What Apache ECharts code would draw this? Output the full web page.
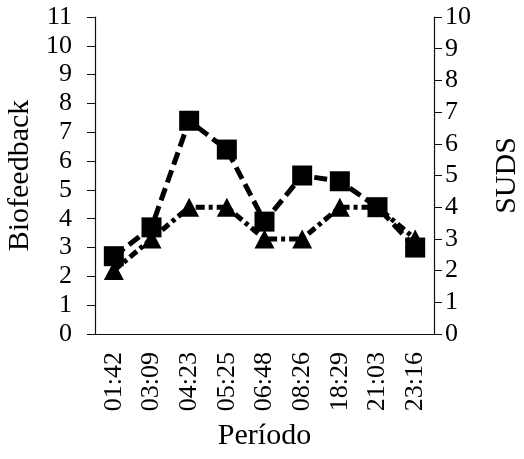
<!DOCTYPE html>
<html>
<head>
<meta charset="utf-8">
<script src="https://cdn.jsdelivr.net/npm/echarts@6/dist/echarts.min.js"></script>
<style>
  html, body { margin: 0; padding: 0; background: #fff; }
  #chart { width: 524px; height: 459px; }
</style>
</head>
<body>
<div id="chart"></div>
<script>
// Time points of each session
const periods = ['01:42', '03:09', '04:23', '05:25', '06:48', '08:26', '18:29', '21:03', '23:16'];
// Biofeedback readings (left axis)
const biofeedback = [2.7, 3.7, 7.4, 6.4, 3.9, 5.5, 5.3, 4.4, 3.0];
// SUDS ratings (right axis)
const suds = [2, 3, 4, 4, 3, 3, 4, 4, 3];

const FONT = 'Liberation Serif';
const TICK_SIZE = 26;
const NAME_SIZE = 30;

const chart = echarts.init(document.getElementById('chart'), null, { renderer: 'canvas' });

const axisLine = { show: true, lineStyle: { color: '#111', width: 1.2 } };

chart.setOption({
  animation: false,
  backgroundColor: '#fff',
  grid: { left: 95, right: 90, top: 17, bottom: 125, containLabel: false, outerBoundsMode: 'none' },
  xAxis: {
    type: 'category',
    data: periods,
    boundaryGap: true,
    axisLine: axisLine,
    axisTick: { show: false },
    axisLabel: { rotate: 90, margin: 18, color: '#000', fontFamily: FONT, fontSize: TICK_SIZE, interval: 0 },
    name: 'Período',
    nameLocation: 'middle',
    nameGap: 87,
    nameTextStyle: { color: '#000', fontFamily: FONT, fontSize: NAME_SIZE }
  },
  yAxis: [
    {
      type: 'value',
      min: 0, max: 11, interval: 1,
      position: 'left',
      axisLine: axisLine,
      axisTick: { show: true, inside: false, length: 8, lineStyle: { color: '#111' } },
      splitLine: { show: false },
      axisLabel: { margin: 23, color: '#000', fontFamily: FONT, fontSize: TICK_SIZE },
      name: 'Biofeedback',
      nameLocation: 'middle',
      nameRotate: 90,
      nameGap: 54,
      nameTextStyle: { color: '#000', fontFamily: FONT, fontSize: NAME_SIZE }
    },
    {
      type: 'value',
      min: 0, max: 10, interval: 1,
      position: 'right',
      axisLine: axisLine,
      axisTick: { show: true, inside: false, length: 8, lineStyle: { color: '#111' } },
      splitLine: { show: false },
      axisLabel: { margin: 11, color: '#000', fontFamily: FONT, fontSize: TICK_SIZE },
      name: 'SUDS',
      nameLocation: 'middle',
      nameRotate: 90,
      nameGap: 58,
      nameTextStyle: { color: '#000', fontFamily: FONT, fontSize: NAME_SIZE }
    }
  ],
  series: [
    {
      name: 'SUDS',
      type: 'line',
      yAxisIndex: 1,
      data: suds,
      symbol: 'triangle',
      symbolSize: [20, 19],
      itemStyle: { color: '#000' },
      lineStyle: { color: '#000', width: 5, type: [9, 4, 4, 4] },
      z: 2
    },
    {
      name: 'Biofeedback',
      type: 'line',
      yAxisIndex: 0,
      data: biofeedback,
      symbol: 'rect',
      symbolSize: 20,
      itemStyle: { color: '#000' },
      lineStyle: { color: '#000', width: 5, type: [13, 6] },
      z: 3
    }
  ]
});
</script>
</body>
</html>
